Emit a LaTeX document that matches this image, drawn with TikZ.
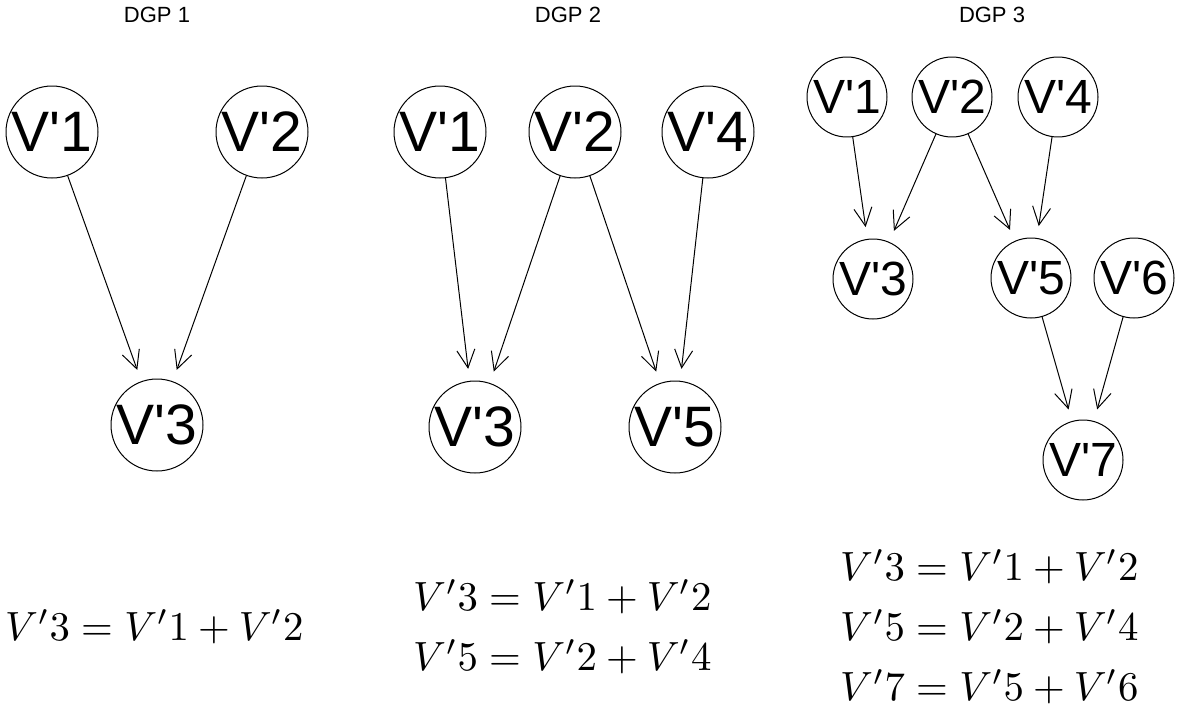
\documentclass[tikz,border=0pt]{standalone}
\usepackage{graphicx}
\usepackage{fontspec}
\newfontfamily\arialfont{Liberation Sans}
\usetikzlibrary{arrows.meta}

\tikzset{
  vtx/.style={circle, draw, line width=1pt, inner sep=0pt, minimum size=92pt,
    font=\arialfont\fontsize{57}{57}\selectfont},
  vtxs/.style={vtx, minimum size=80pt, font=\arialfont\fontsize{48}{48}\selectfont},
  edge/.style={-{Straight Barb[length=18pt,width=18pt,line width=1pt]},
    line width=1pt, shorten >=12pt},
  ttl/.style={font=\arialfont\fontsize{22}{22}\selectfont},
  eqn/.style={anchor=base west, inner sep=0pt}
}
\newcommand{\vlab}[1]{\makebox[0pt]{V\textquotesingle#1}}
\newcommand{\eqbig}[1]{\scalebox{4.08}{$#1$}}

\begin{document}
\begin{tikzpicture}[x=1pt, y=-1pt, line cap=round, line join=round]

\useasboundingbox (0,0) rectangle (1181,709);

% -----------------------
% Titles
% -----------------------
\node[ttl] (t1) at (157,15) {DGP 1};
\node[ttl] (t2) at (568,15) {DGP 2};
\node[ttl] (t3) at (992,15) {DGP 3};

% -----------------------
% DGP 1
% -----------------------
\node[vtx] (a1) at (52,132)  {\vlab{1}};
\node[vtx] (a2) at (262,132) {\vlab{2}};
\node[vtx] (a3) at (157,425) {\vlab{3}};

% -----------------------
% DGP 2
% -----------------------
\node[vtx] (b1) at (440,132) {\vlab{1}};
\node[vtx] (b2) at (575,132) {\vlab{2}};
\node[vtx] (b4) at (708,132) {\vlab{4}};
\node[vtx] (b3) at (475,427) {\vlab{3}};
\node[vtx] (b5) at (675,427) {\vlab{5}};

% -----------------------
% DGP 3 (smaller vertices)
% -----------------------
\node[vtxs] (c1) at (847,97)   {\vlab{1}};
\node[vtxs] (c2) at (952,97)   {\vlab{2}};
\node[vtxs] (c4) at (1058,97)  {\vlab{4}};
\node[vtxs] (c3) at (873,279)  {\vlab{3}};
\node[vtxs] (c5) at (1031,278) {\vlab{5}};
\node[vtxs] (c6) at (1134,278) {\vlab{6}};
\node[vtxs] (c7) at (1083,460) {\vlab{7}};

% -----------------------
% Edges
% -----------------------
\foreach \s/\t in {a1/a3, a2/a3,
                   b1/b3, b2/b3, b2/b5, b4/b5,
                   c1/c3, c2/c3, c2/c5, c4/c5, c5/c7, c6/c7}{
  \draw[edge] (\s) -- (\t);
}

% -----------------------
% Structural equations
% -----------------------
\node[eqn] (e1) at (5,640) {\eqbig{V'3 = V'1 + V'2}};

\node[eqn] (e2) at (413,610) {\eqbig{V'3 = V'1 + V'2}};
\node[eqn] (e3) at (413,670) {\eqbig{V'5 = V'2 + V'4}};

\node[eqn] (e4) at (840,580) {\eqbig{V'3 = V'1 + V'2}};
\node[eqn] (e5) at (840,640) {\eqbig{V'5 = V'2 + V'4}};
\node[eqn] (e6) at (840,700) {\eqbig{V'7 = V'5 + V'6}};

\end{tikzpicture}
\end{document}
